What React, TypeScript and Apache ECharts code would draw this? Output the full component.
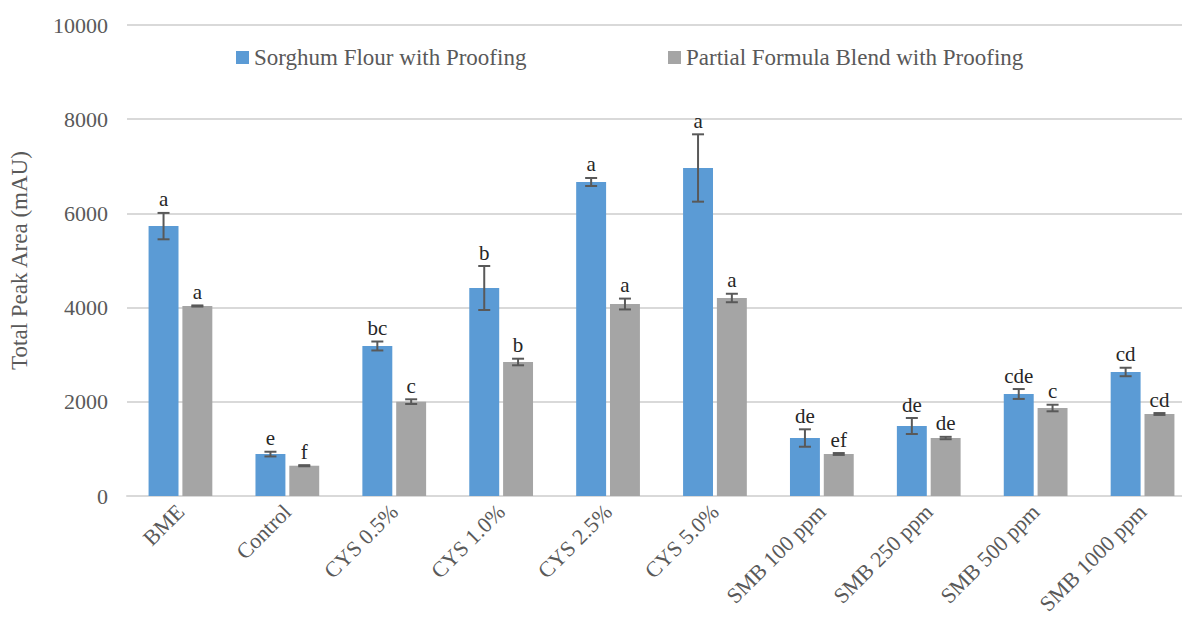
import React, { useEffect, useRef } from "react";
import * as echarts from "echarts";

const categories = ["BME", "Control", "CYS 0.5%", "CYS 1.0%", "CYS 2.5%", "CYS 5.0%", "SMB 100 ppm", "SMB 250 ppm", "SMB 500 ppm", "SMB 1000 ppm"];
const seriesNames = ["Sorghum Flour with Proofing", "Partial Formula Blend with Proofing"];
const sorghumValues = [5730, 890, 3185, 4416, 6667, 6964, 1231, 1486, 2166, 2633];
const sorghumErrors = [280, 50, 95, 467, 85, 715, 185, 170, 105, 90];
const sorghumLetters = ["a", "e", "bc", "b", "a", "a", "de", "de", "cde", "cd"];
const blendValues = [4034, 643, 2003, 2845, 4076, 4204, 892, 1231, 1868, 1741];
const blendErrors = [12, 12, 50, 70, 115, 90, 20, 25, 70, 20];
const blendLetters = ["a", "f", "c", "b", "a", "a", "ef", "de", "c", "cd"];
const yTicks = { min: 0, max: 10000, interval: 2000 };

const FONT = "'Liberation Serif', serif";
const BAR_W = 0.28;
const BAR_GAP = 0.13;

function errorSeries(values: number[], errors: number[], letters: string[], side: number) {
  const data = values.map((v, i) => [i, v, errors[i]]);
  return {
    type: "custom",
    silent: true,
    z: 10,
    data,
    encode: { x: 0, y: 1 },
    renderItem: (params: any, api: any) => {
      const idx = api.value(0);
      const v = api.value(1);
      const e = api.value(2);
      const letter = letters[params.dataIndex];
      const catW = api.size([1, 0])[0];
      const bw = catW * BAR_W;
      const off = side * (bw / 2 + (bw * BAR_GAP) / 2);
      const top = api.coord([idx, v + e]);
      const bot = api.coord([idx, v - e]);
      const x = top[0] + off;
      const cap = 6;
      const st = { stroke: "#595959", lineWidth: 2 };
      return {
        type: "group",
        children: [
          { type: "line", shape: { x1: x, y1: top[1], x2: x, y2: bot[1] }, style: st },
          { type: "line", shape: { x1: x - cap, y1: top[1], x2: x + cap, y2: top[1] }, style: st },
          { type: "line", shape: { x1: x - cap, y1: bot[1], x2: x + cap, y2: bot[1] }, style: st },
          {
            type: "text",
            x: x,
            y: top[1] - 3,
            style: {
              text: letter,
              fill: "#262626",
              fontFamily: FONT,
              fontSize: 21,
              align: "center",
              verticalAlign: "bottom",
            },
          },
        ],
      };
    },
  };
}

export default function App() {
  const ref = useRef<HTMLDivElement>(null);
  useEffect(() => {
    if (!ref.current) return;
    const chart = echarts.init(ref.current, null, { renderer: "svg" });
    const legendText = { fontFamily: FONT, fontSize: 23, color: "#595959" };
    chart.setOption({
      animation: false,
      textStyle: { fontFamily: FONT },
      grid: { left: 127, width: 1069, top: 25, bottom: 129, containLabel: false, outerBoundsMode: "none" },
      legend: [
        {
          data: [seriesNames[0]],
          top: 46,
          left: 236,
          padding: 0,
          itemWidth: 13,
          itemHeight: 13,
          icon: "rect",
          textStyle: legendText,
        },
        {
          data: [seriesNames[1]],
          top: 46,
          left: 668,
          padding: 0,
          itemWidth: 13,
          itemHeight: 13,
          icon: "rect",
          textStyle: legendText,
        },
      ],
      xAxis: {
        type: "category",
        data: categories,
        axisLine: { lineStyle: { color: "#d9d9d9", width: 2 } },
        axisTick: { show: false },
        axisLabel: {
          rotate: 45,
          interval: 0,
          margin: 12,
          fontFamily: FONT,
          fontSize: 22,
          color: "#595959",
        },
      },
      yAxis: {
        type: "value",
        min: yTicks.min,
        max: yTicks.max,
        interval: yTicks.interval,
        name: "Total Peak Area (mAU)",
        nameLocation: "middle",
        nameGap: 96,
        nameTextStyle: { fontFamily: FONT, fontSize: 23, color: "#595959" },
        axisLine: { show: false },
        axisTick: { show: false },
        splitLine: { lineStyle: { color: "#d9d9d9", width: 2 } },
        axisLabel: {
          fontFamily: FONT,
          fontSize: 22,
          color: "#595959",
          margin: 19,
          formatter: (v: number) => String(v),
        },
      },
      series: [
        {
          name: seriesNames[0],
          type: "bar",
          data: sorghumValues,
          barWidth: `${BAR_W * 100}%`,
          barGap: `${BAR_GAP * 100}%`,
          itemStyle: { color: "#5b9bd5" },
        },
        {
          name: seriesNames[1],
          type: "bar",
          data: blendValues,
          barWidth: `${BAR_W * 100}%`,
          barGap: `${BAR_GAP * 100}%`,
          itemStyle: { color: "#a5a5a5" },
        },
        errorSeries(sorghumValues, sorghumErrors, sorghumLetters, -1),
        errorSeries(blendValues, blendErrors, blendLetters, 1),
      ],
    });
    return () => chart.dispose();
  }, []);
  return <div ref={ref} style={{ width: 1182, height: 625, position: "absolute", left: 0, top: 0 }} />;
}
